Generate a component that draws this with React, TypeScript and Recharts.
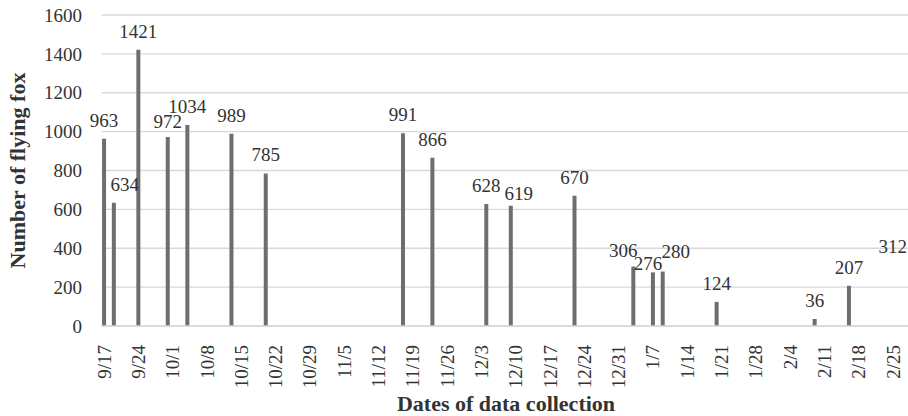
import React from "react";
import { BarChart, Bar, XAxis, YAxis, CartesianGrid, Label } from "recharts";

// ---- data ----
const collectionDates = [
  "9/17", "9/19", "9/24", "9/30", "10/4", "10/13", "10/20", "11/17", "11/23",
  "12/4", "12/9", "12/22", "1/3", "1/7", "1/9", "1/20", "2/9", "2/16", "2/29",
];
const flyingFoxCounts = [
  963, 634, 1421, 972, 1034, 989, 785, 991, 866,
  628, 619, 670, 306, 276, 280, 124, 36, 207, 312,
];
const yTicks = [0, 200, 400, 600, 800, 1000, 1200, 1400, 1600];
const xTickLabels = [
  "9/17", "9/24", "10/1", "10/8", "10/15", "10/22", "10/29", "11/5", "11/12",
  "11/19", "11/26", "12/3", "12/10", "12/17", "12/24", "12/31", "1/7", "1/14",
  "1/21", "1/28", "2/4", "2/11", "2/18", "2/25",
];

// ---- helpers ----
const START = Date.UTC(2019, 8, 17);
const dayIndex = (md: string) => {
  const [m, d] = md.split("/").map(Number);
  const y = m >= 9 ? 2019 : 2020;
  return Math.round((Date.UTC(y, m - 1, d) - START) / 86400000);
};
const lastDay = dayIndex(collectionDates[collectionDates.length - 1]);

const data = collectionDates.map((d, i) => ({
  date: d,
  day: dayIndex(d),
  count: flyingFoxCounts[i],
}));
const xTicks = xTickLabels.map(dayIndex);
const tickLabelByDay: Record<number, string> = {};
xTickLabels.forEach((t) => (tickLabelByDay[dayIndex(t)] = t));

// ---- style ----
const FONT = '"Liberation Serif", "Times New Roman", serif';
const TEXT = "#333333";
const GRID = "#d9d9d9";
const BAR = "#6e6e72";
const FS = 19;
const TITLE_FS = 22;
const VISIBLE_RIGHT = 907;

// label nudges to avoid overlaps (as in source chart)
const labelNudge: Record<string, [number, number]> = {
  "9/19": [11, 0],
  "9/30": [0, 3],
  "12/9": [8, 6],
  "1/3": [-10, 2],
  "1/7": [-5, 10],
  "1/9": [13, -2],
};

const BarLabel = (props: any) => {
  const { x, y, width, value, index } = props;
  const key = collectionDates[index];
  const [dx, dy] = labelNudge[key] || [0, 0];
  let cx = Number(x) + Number(width) / 2 + dx;
  const half = (String(value).length * 0.5 * FS) / 2;
  cx = Math.min(cx, VISIBLE_RIGHT - half);
  return (
    <text
      x={cx}
      y={Number(y) - 12 + dy}
      textAnchor="middle"
      fontFamily={FONT}
      fontSize={FS}
      fill={TEXT}
    >
      {value}
    </text>
  );
};

const XTick = (props: any) => {
  const { x, y, payload } = props;
  return (
    <text
      x={x}
      y={y}
      transform={`rotate(-90, ${x}, ${y})`}
      textAnchor="end"
      dy="0.35em"
      fontFamily={FONT}
      fontSize={FS}
      fill={TEXT}
    >
      {tickLabelByDay[payload.value]}
    </text>
  );
};

export default function App() {
  return (
    <div
      style={{
        position: "fixed",
        left: 0,
        top: 0,
        width: 908,
        height: 416,
        overflow: "hidden",
        background: "#fff",
      }}
    >
      <BarChart
        width={915}
        height={416}
        data={data}
        margin={{ top: 15, right: 0, bottom: 0, left: 0 }}
      >
        <CartesianGrid horizontal={true} vertical={false} stroke={GRID} strokeWidth={1.3} />
        <XAxis
          dataKey="day"
          type="number"
          domain={[-0.5, lastDay + 0.5]}
          allowDataOverflow
          ticks={xTicks}
          interval={0}
          height={90}
          tickLine={false}
          tickSize={0}
          tickMargin={19}
          axisLine={{ stroke: GRID, strokeWidth: 1.3 }}
          tick={<XTick />}
        >
          <Label
            content={(p: any) => {
              const vb = p.viewBox;
              return (
                <text
                  x={506}
                  y={411}
                  textAnchor="middle"
                  fontFamily={FONT}
                  fontSize={TITLE_FS}
                  fontWeight="bold"
                  fill={TEXT}
                >
                  Dates of data collection
                </text>
              );
            }}
          />
        </XAxis>
        <YAxis
          type="number"
          domain={[0, 1600]}
          ticks={yTicks}
          width={101.5}
          axisLine={false}
          tickLine={false}
          tickSize={0}
          tickMargin={19.5}
          tick={{ fontFamily: FONT, fontSize: FS, fill: TEXT }}
        >
          <Label
            content={(p: any) => {
              const vb = p.viewBox;
              const cy = vb.y + vb.height / 2;
              const cx = 17;
              return (
                <text
                  x={cx}
                  y={cy}
                  transform={`rotate(-90, ${cx}, ${cy})`}
                  textAnchor="middle"
                  dy="0.35em"
                  fontFamily={FONT}
                  fontSize={TITLE_FS}
                  fontWeight="bold"
                  fill={TEXT}
                >
                  Number of flying fox
                </text>
              );
            }}
          />
        </YAxis>
        <Bar
          dataKey="count"
          fill={BAR}
          barSize={4}
          isAnimationActive={false}
          label={BarLabel}
        />
      </BarChart>
    </div>
  );
}
